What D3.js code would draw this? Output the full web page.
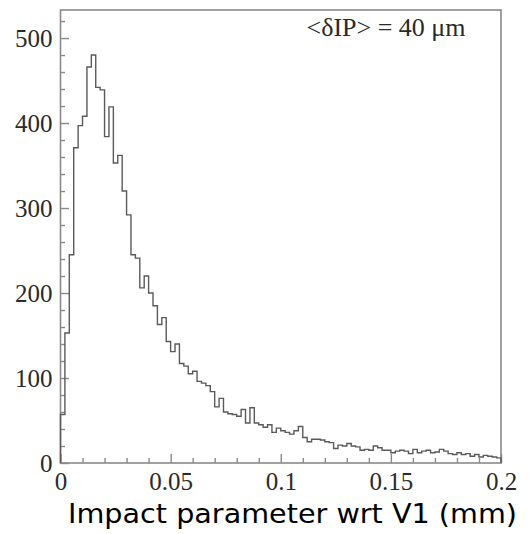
<!DOCTYPE html>
<html>
<head>
<meta charset="utf-8">
<script src="https://cdn.jsdelivr.net/npm/d3@7"></script>
<style>
  html, body { margin: 0; padding: 0; background: #fff; }
  svg { display: block; }
</style>
</head>
<body>
<script>
// ---- data ----
const xDomain = [0, 0.2];
const binWidth = 0.002;
const counts = [
  57,153,245,371,397,408,466,480,442,439,384,419,353,362,320,
  292,245,241,206,220,200,185,163,171,143,
  131,140,117,114,105,108,96,94,91,84,
  66,76,60,58,57,55,63,47,65,47,
  45,42,45,36,41,38,36,34,38,43,
  30,25,28,28,27,25,24,17,21,20,
  23,20,19,15,16,15,20,18,15,15,
  12,14,15,14,11,16,12,14,15,12,
  13,16,14,11,10,12,10,11,8,10,
  7,9,8,7,6
];
const xMajorTicks = [0, 0.05, 0.1, 0.15, 0.2];
const xTickLabels = ["0", "0.05", "0.1", "0.15", "0.2"];
const xMinorTicks = [0.01,0.02,0.03,0.04,0.06,0.07,0.08,0.09,0.11,0.12,0.13,0.14,0.16,0.17,0.18,0.19];
const yMajorTicks = [0, 100, 200, 300, 400, 500];
const yMinorTicks = [20,40,60,80,120,140,160,180,220,240,260,280,320,340,360,380,420,440,460,480,520];
const yMax = 533;
const legendText = "<δIP> = 40 μm";
const xTitle = "Impact parameter wrt V1 (mm)";

// ---- chart ----
const W = 531, H = 534;
const svg = d3.select("body").append("svg").attr("width", W).attr("height", H);

const x = d3.scaleLinear().domain(xDomain).range([60.5, 501]);
const y = d3.scaleLinear().domain([0, yMax]).range([463, 10]);

const frameColor = "#8a8a8a";
const labelFont = "'Liberation Serif', 'DejaVu Serif', serif";

// frame
svg.append("rect")
  .attr("x", x(xDomain[0])).attr("y", y(yMax))
  .attr("width", x(xDomain[1]) - x(xDomain[0]))
  .attr("height", y(0) - y(yMax))
  .attr("fill", "none").attr("stroke", frameColor).attr("stroke-width", 1.6);

// x axis major
const gx = svg.append("g").attr("transform", `translate(0,${y(0)})`)
  .call(d3.axisBottom(x).tickValues(xMajorTicks)
    .tickFormat((d, i) => xTickLabels[i])
    .tickSizeInner(-9).tickSizeOuter(0).tickPadding(9));
gx.select(".domain").remove();
gx.selectAll(".tick line").attr("stroke", frameColor).attr("stroke-width", 1.4);
gx.selectAll(".tick text").attr("font-family", labelFont).attr("font-size", 25).attr("fill", "#2a2a2a");

// x axis minor
const gxm = svg.append("g").attr("transform", `translate(0,${y(0)})`)
  .call(d3.axisBottom(x).tickValues(xMinorTicks).tickFormat("")
    .tickSizeInner(-5).tickSizeOuter(0));
gxm.select(".domain").remove();
gxm.selectAll(".tick line").attr("stroke", frameColor).attr("stroke-width", 1.4);

// y axis major
const gy = svg.append("g").attr("transform", `translate(${x(0)},0)`)
  .call(d3.axisLeft(y).tickValues(yMajorTicks).tickFormat(d3.format("d"))
    .tickSizeInner(-8.5).tickSizeOuter(0).tickPadding(8));
gy.select(".domain").remove();
gy.selectAll(".tick line").attr("stroke", frameColor).attr("stroke-width", 1.4);
gy.selectAll(".tick text").attr("font-family", labelFont).attr("font-size", 25).attr("fill", "#2a2a2a");

// y axis minor
const gym = svg.append("g").attr("transform", `translate(${x(0)},0)`)
  .call(d3.axisLeft(y).tickValues(yMinorTicks).tickFormat("")
    .tickSizeInner(-4.5).tickSizeOuter(0));
gym.select(".domain").remove();
gym.selectAll(".tick line").attr("stroke", frameColor).attr("stroke-width", 1.4);

// histogram outline
const pts = [[xDomain[0], 0]];
counts.forEach((c, i) => {
  const lo = xDomain[0] + i * binWidth, hi = lo + binWidth;
  pts.push([lo, c], [hi, c]);
});
pts.push([xDomain[1], 0]);
svg.append("path")
  .datum(pts)
  .attr("d", d3.line().x(d => x(d[0])).y(d => y(d[1])))
  .attr("fill", "none").attr("stroke", "#5a5a5a").attr("stroke-width", 1.4)
  .attr("stroke-linejoin", "miter");

// legend text
svg.append("text")
  .attr("x", 306.5).attr("y", 36)
  .attr("font-family", labelFont).attr("font-size", 26).attr("fill", "#2a2a2a")
  .text(legendText);

// x title
svg.append("text")
  .attr("x", 68).attr("y", 523)
  .attr("font-family", "'DejaVu Sans', 'Noto Sans', sans-serif")
  .attr("font-size", 27).attr("fill", "#000")
  .attr("textLength", 449).attr("lengthAdjust", "spacingAndGlyphs")
  .text(xTitle);
</script>
</body>
</html>
